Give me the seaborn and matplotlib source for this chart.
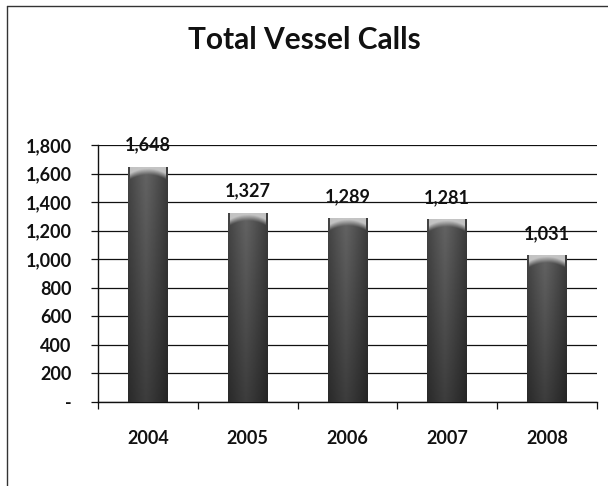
import numpy as np
import pandas as pd
import matplotlib
matplotlib.use("Agg")
import matplotlib.pyplot as plt
from matplotlib.ticker import FuncFormatter, FixedLocator
import seaborn as sns

years = ["2004", "2005", "2006", "2007", "2008"]
vessel_calls = [1648, 1327, 1289, 1281, 1031]
title = "Total Vessel Calls"

df = pd.DataFrame({"year": years, "calls": vessel_calls})

sns.set_theme(style="white")
plt.rcParams["font.family"] = ["Lato", "DejaVu Sans"]

fig = plt.figure(figsize=(6.08, 4.86), dpi=100)
ax = fig.add_axes([98 / 608, 1 - 402 / 486, (597 - 98) / 608, (402 - 145) / 486])

sns.barplot(data=df, x="year", y="calls", color="#2a2a2a", width=0.4,
            ax=ax, zorder=3, edgecolor="none")

ax.set_ylim(0, 1800)
ax.set_xlim(-0.5, len(years) - 0.5)
ax.yaxis.set_major_locator(FixedLocator(np.arange(0, 1801, 200)))
ax.yaxis.set_major_formatter(FuncFormatter(lambda v, p: "-" if v == 0 else f"{int(v):,}"))
ax.grid(axis="y", color="#111111", linewidth=0.9, zorder=0)
ax.set_axisbelow(True)

for side in ("top", "right"):
    ax.spines[side].set_visible(False)
for side in ("left", "bottom"):
    ax.spines[side].set_color("#111111")
    ax.spines[side].set_linewidth(1.0)

ax.tick_params(axis="y", which="major", direction="out", length=5, width=0.9,
               color="#111111", labelsize=13, pad=14, left=True)
ax.tick_params(axis="x", which="major", length=0, labelsize=13, pad=20)
ax.set_xticks(np.arange(-0.5, len(years), 1.0), minor=True)
ax.tick_params(axis="x", which="minor", direction="out", length=5, width=0.9,
               color="#111111", bottom=True)
for lbl in ax.get_xticklabels() + ax.get_yticklabels():
    lbl.set_fontweight("bold")
    lbl.set_color("#111111")
ax.set_xlabel("")
ax.set_ylabel("")

# dark shaded column fill, lighter toward the middle and top, with a pale cap
xs = np.linspace(0, 1, 64)
horiz = 0.34 - 0.26 * np.abs(xs - 0.45) ** 1.1
ys = np.linspace(0, 1, 128)[:, None]
shade = np.clip(horiz[None, :] * (0.7 + 0.45 * ys), 0, 1)
px = 1800 / 257
for bar in list(ax.patches):
    x0, w, h = bar.get_x(), bar.get_width(), bar.get_height()
    img = ax.imshow(shade, cmap="gray", vmin=0, vmax=1, aspect="auto",
                    extent=[x0, x0 + w, 0, h], origin="lower", zorder=4,
                    interpolation="bilinear")
    img.set_clip_path(bar)
    cap_lo = h - 14 * px
    cy = np.linspace(0, 1, 32)[:, None]
    cx = np.abs(xs - 0.5)[None, :] * 2
    cap_alpha = np.clip((cy - 0.35 * (1 - cx ** 2) - 0.1) * 2.2, 0, 1)
    cap_rgba = np.ones((32, 64, 4)) * 0.82
    cap_rgba[..., 3] = cap_alpha * 0.9
    cimg = ax.imshow(cap_rgba, aspect="auto",
                     extent=[x0 + w * 0.05, x0 + w * 0.95, cap_lo, h], origin="lower",
                     zorder=5, interpolation="bilinear")
    cimg.set_clip_path(bar)
    ax.text(bar.get_x() + w / 2, h + 13 * px, f"{int(round(h)):,}",
            ha="center", va="bottom", fontsize=13, fontweight="bold",
            color="#111111", zorder=6)

ax.set_xlim(-0.5, len(years) - 0.5)
ax.set_ylim(0, 1800)

fig.text(0.5, 1 - 40 / 486, title, ha="center", va="center",
         fontsize=21.5, fontweight="bold", color="#111111")

# chart frame
fig.add_artist(plt.Line2D([7 / 608, 7 / 608], [0, 1 - 6 / 486],
                          transform=fig.transFigure, color="#333333", linewidth=1.0))
fig.add_artist(plt.Line2D([7 / 608, 1], [1 - 6 / 486, 1 - 6 / 486],
                          transform=fig.transFigure, color="#333333", linewidth=1.0))

fig.savefig("out.png", dpi=100, facecolor="white")
